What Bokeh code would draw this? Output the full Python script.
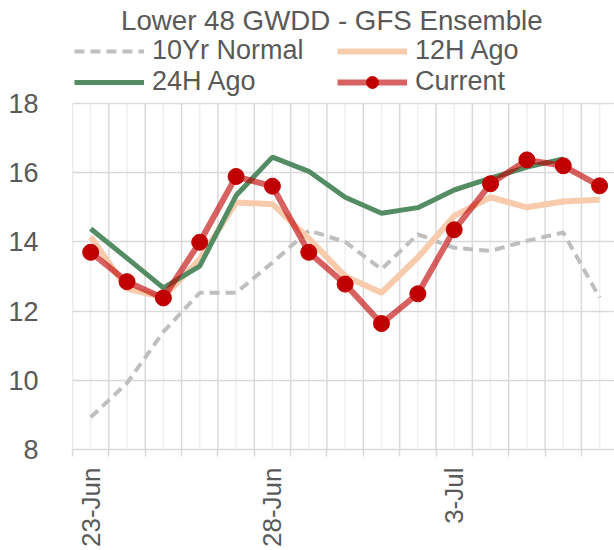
import math
from bokeh.plotting import figure
from bokeh.models import Range1d, FixedTicker, Legend, LegendItem, Label
from bokeh.embed import file_html
from bokeh.resources import INLINE

dates = ["23-Jun", "24-Jun", "25-Jun", "26-Jun", "27-Jun", "28-Jun", "29-Jun", "30-Jun",
         "1-Jul", "2-Jul", "3-Jul", "4-Jul", "5-Jul", "6-Jul", "7-Jul"]
shown_labels = ["23-Jun", "28-Jun", "3-Jul"]
normal_10yr = [8.93, 9.92, 11.40, 12.53, 12.53, 13.40, 14.33, 14.00, 13.21, 14.22, 13.83, 13.74, 14.03, 14.27, 12.39]
ago_12h = [14.15, 12.65, 12.40, 13.50, 15.14, 15.09, 14.10, 13.01, 12.53, 13.55, 14.75, 15.29, 15.00, 15.17, 15.22]
ago_24h = [14.38, 13.53, 12.67, 13.30, 15.34, 16.45, 16.04, 15.29, 14.83, 14.99, 15.50, 15.84, 16.16, 16.40, float("nan")]
current = [13.70, 12.85, 12.38, 13.99, 15.89, 15.61, 13.70, 12.78, 11.64, 12.50, 14.35, 15.68, 16.37, 16.20, 15.62]
y_ticks = [8, 10, 12, 14, 16, 18]

x = list(range(len(dates)))
FONT = "Liberation Sans"
TXT = "#595959"

# frame spans whole height above the axis; value axis 8..18 takes the lower 346px
FRAME_H = 449
y_top = y_ticks[0] + (y_ticks[-1] - y_ticks[0]) * FRAME_H / 346.0

p = figure(width=614, height=550, output_backend="svg", toolbar_location=None, title=None,
           x_range=Range1d(-0.5, 14.41), y_range=Range1d(y_ticks[0], y_top),
           min_border_left=72, min_border_right=0, min_border_top=0, min_border_bottom=550 - FRAME_H)
p.outline_line_color = None
p.background_fill_color = "white"

# grids: horizontal via grid, vertical category gridlines limited to the value range
p.xgrid.grid_line_color = None
p.ygrid.ticker = FixedTicker(ticks=y_ticks)
p.ygrid.grid_line_color = "#d9d9d9"
p.ygrid.grid_line_width = 1.5
bounds = [i - 0.5 for i in range(len(dates) + 1)]
p.segment(x0=x, y0=y_ticks[0], x1=x, y1=y_ticks[-1], line_color="#efefef", line_width=1.5, level="underlay")
p.segment(x0=bounds, y0=y_ticks[0], x1=bounds, y1=y_ticks[-1], line_color="#d9d9d9", line_width=1.5, level="underlay")

# x axis
xa = p.xaxis[0]
xa.ticker = FixedTicker(ticks=x, minor_ticks=bounds)
xa.major_label_overrides = {i: (d if d in shown_labels else "") for i, d in enumerate(dates)}
xa.major_label_orientation = math.pi / 2
xa.major_tick_line_color = None
xa.major_tick_out = 0
xa.minor_tick_line_color = "#d9d9d9"
xa.minor_tick_line_width = 1.5
xa.minor_tick_out = 7
xa.minor_tick_in = 0
xa.axis_line_color = "#d9d9d9"
xa.axis_line_width = 1.5
xa.major_label_standoff = 11
xa.major_label_text_font = FONT
xa.major_label_text_font_size = "26px"
xa.major_label_text_color = TXT

# y axis
ya = p.yaxis[0]
ya.ticker = FixedTicker(ticks=y_ticks)
ya.axis_line_color = None
ya.major_tick_line_color = None
ya.minor_tick_line_color = None
ya.major_tick_out = 0
ya.major_label_standoff = 34
ya.major_label_text_font = FONT
ya.major_label_text_font_size = "27px"
ya.major_label_text_color = TXT

r_norm = p.line(x, normal_10yr, line_color="#bfbfbf", line_width=4, line_dash="10 6")
r_12 = p.line(x, ago_12h, line_color="#f8cbad", line_width=6)
r_24 = p.line(x, ago_24h, line_color="#548c64", line_width=5)
r_cur = p.line(x, current, line_color="#c00000", line_alpha=0.62, line_width=6)
r_cur_m = p.scatter(x, current, size=16, fill_color="#c00000", line_color="#c00000")


def make_legend(items, loc):
    lg = Legend(items=items, orientation="horizontal", location=loc)
    lg.margin = 0
    lg.padding = 0
    lg.spacing = 0
    lg.border_line_color = None
    lg.background_fill_alpha = 0
    lg.glyph_width = 70
    lg.glyph_height = 30
    lg.label_height = 30
    lg.label_width = 185
    lg.label_standoff = 8
    lg.label_text_font = FONT
    lg.label_text_font_size = "27px"
    lg.label_text_color = TXT
    return lg


row1 = make_legend([LegendItem(label="10Yr Normal", renderers=[r_norm]),
                    LegendItem(label="12H Ago", renderers=[r_12])], (2, 383))
row2 = make_legend([LegendItem(label="24H Ago", renderers=[r_24]),
                    LegendItem(label="Current", renderers=[r_cur, r_cur_m])], (2, 352))
p.add_layout(row1, "center")
p.add_layout(row2, "center")

title = Label(x=48.5, y=FRAME_H - 19.8, x_units="screen", y_units="screen",
              text="Lower 48 GWDD - GFS Ensemble", text_font=FONT, text_font_size="27.7px",
              text_color=TXT, text_baseline="alphabetic", text_align="left")
p.add_layout(title)

open("out.html", "w").write(file_html(p, INLINE))
